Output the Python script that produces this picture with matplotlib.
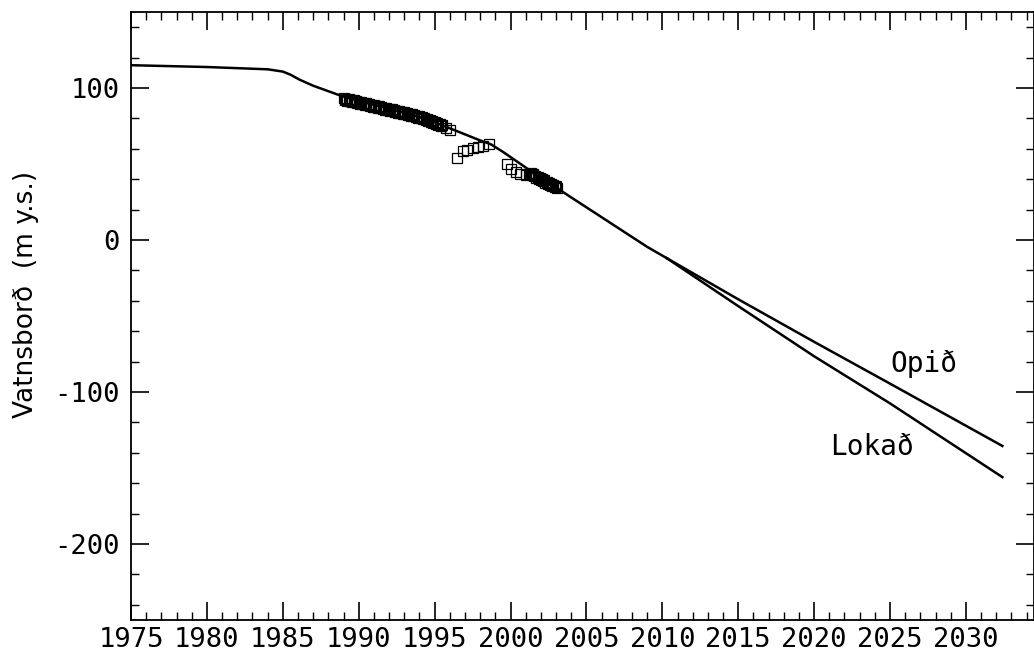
import matplotlib
matplotlib.use("Agg")
import matplotlib.pyplot as plt
from matplotlib.ticker import MultipleLocator

# Model curve (shared part up to ~2010)
curve_years = [1975.0, 1980.0, 1984.0, 1985.0, 1985.5, 1986.1, 1987.0, 1988.8, 1990.0,
               1992.0, 1994.0, 1995.0, 1996.0, 1997.0, 1998.0, 1998.7, 1999.5, 2000.3,
               2001.1, 2002.0, 2003.0, 2004.0, 2005.0, 2006.0, 2007.0, 2008.0, 2009.0,
               2010.3]
curve_level = [115.0, 113.8, 112.3, 110.8, 108.8, 105.5, 101.5, 95.0, 91.5,
               86.5, 81.0, 77.5, 73.5, 69.5, 65.5, 63.0, 58.0, 52.5,
               47.0, 41.0, 34.5, 28.0, 21.5, 15.0, 8.5, 2.0, -4.5,
               -12.0]

# Projections after 2010
open_years = [2010.3, 2015.0, 2020.0, 2025.0, 2032.4]
open_level = [-12.0, -39.0, -67.0, -94.5, -135.5]
closed_years = [2010.3, 2015.0, 2020.0, 2025.0, 2032.4]
closed_level = [-12.0, -43.5, -76.5, -107.5, -156.0]

# Measured water level (open squares), monthly 1989-1995
obs_years = [
    1989.00, 1989.08, 1989.17, 1989.25, 1989.33, 1989.42, 1989.50, 1989.58, 1989.67, 1989.75, 1989.83, 1989.92,
    1990.00, 1990.08, 1990.17, 1990.25, 1990.33, 1990.42, 1990.50, 1990.58, 1990.67, 1990.75, 1990.83, 1990.92,
    1991.00, 1991.08, 1991.17, 1991.25, 1991.33, 1991.42, 1991.50, 1991.58, 1991.67, 1991.75, 1991.83, 1991.92,
    1992.00, 1992.08, 1992.17, 1992.25, 1992.33, 1992.42, 1992.50, 1992.58, 1992.67, 1992.75, 1992.83, 1992.92,
    1993.00, 1993.08, 1993.17, 1993.25, 1993.33, 1993.42, 1993.50, 1993.58, 1993.67, 1993.75, 1993.83, 1993.92,
    1994.00, 1994.08, 1994.17, 1994.25, 1994.33, 1994.42, 1994.50, 1994.58, 1994.67, 1994.75, 1994.83, 1994.92,
    1995.00, 1995.08, 1995.17, 1995.25, 1995.33, 1995.42, 1995.50, 1995.75, 1996.00,
    1996.50, 1996.85, 1997.15, 1997.50, 1997.85, 1998.20, 1998.55,
    1999.80, 2000.05, 2000.35, 2000.65, 2001.00, 2001.25,
    2001.33, 2001.40, 2001.48, 2001.55, 2001.63, 2001.70, 2001.78, 2001.85, 2001.93, 2002.00,
    2002.08, 2002.15, 2002.23, 2002.30, 2002.38, 2002.45, 2002.53, 2002.60, 2002.68, 2002.75,
    2002.83, 2002.90, 2002.98, 2003.05]
obs_level = [
    93.4, 92.0, 92.9, 91.6, 92.5, 91.2, 92.2, 90.9, 91.8, 90.5, 91.4, 90.2,
    91.1, 89.8, 90.7, 89.4, 90.3, 89.0, 89.9, 88.6, 89.5, 88.2, 89.1, 87.8,
    88.7, 87.4, 88.3, 87.0, 87.9, 86.6, 87.5, 86.2, 87.1, 85.8, 86.7, 85.4,
    86.3, 85.0, 85.9, 84.6, 85.5, 84.2, 85.1, 83.8, 84.7, 83.4, 84.3, 83.0,
    83.9, 82.6, 83.5, 82.2, 83.1, 81.8, 82.7, 81.4, 82.3, 80.9, 81.8, 80.4,
    81.3, 80.0, 80.8, 79.4, 80.3, 78.9, 79.7, 78.3, 79.1, 77.7, 78.5, 77.1,
    77.8, 76.4, 77.1, 75.6, 76.3, 74.9, 75.4, 73.5, 72.3,
    54.0, 58.5, 59.5, 60.3, 61.0, 61.6, 63.0,
    50.0, 47.0, 44.5, 43.7, 43.0, 43.7,
    44.0, 42.6, 43.2, 41.8, 42.4, 41.0, 41.6, 40.2, 40.8, 39.4,
    40.0, 38.6, 39.2, 37.8, 38.4, 37.0, 37.6, 36.2, 36.8, 35.4,
    36.0, 34.6, 35.2, 34.0]

x_ticks = [1975, 1980, 1985, 1990, 1995, 2000, 2005, 2010, 2015, 2020, 2025, 2030]
y_ticks = [-200, -100, 0, 100]
y_label = "Vatnsborð  (m y.s.)"
label_open = "Opið"
label_closed = "Lokað"

fig = plt.figure(figsize=(10.34, 6.52), dpi=100)
ax = fig.add_axes([131 / 1034, 32 / 652, (1033.5 - 131) / 1034, (620 - 12) / 652])

ax.plot(curve_years, curve_level, color="black", lw=1.8, zorder=3)
ax.plot(open_years, open_level, color="black", lw=1.8, zorder=3)
ax.plot(closed_years, closed_level, color="black", lw=1.8, zorder=3)
ax.plot(obs_years, obs_level, linestyle="none", marker="s", markersize=6.6,
        markerfacecolor="none", markeredgecolor="black", markeredgewidth=0.9, zorder=4)

ax.set_xlim(1975, 2034.45)
ax.set_ylim(-250, 150)
ax.set_xticks(x_ticks)
ax.set_xticklabels([str(t) for t in x_ticks])
ax.set_yticks(y_ticks)
ax.set_yticklabels([str(t) for t in y_ticks])
ax.xaxis.set_minor_locator(MultipleLocator(1))
ax.yaxis.set_minor_locator(MultipleLocator(20))

mono = "DejaVu Sans Mono"
ax.tick_params(which="both", direction="in", top=True, right=True, colors="black")
ax.tick_params(which="major", length=13, width=1.2, labelsize=19.5, pad=5)
ax.tick_params(which="minor", length=6, width=1.0)
for lab in ax.get_xticklabels() + ax.get_yticklabels():
    lab.set_fontfamily(mono)
ax.tick_params(axis="y", pad=8)
for sp in ax.spines.values():
    sp.set_linewidth(1.3)

ax.set_ylabel(y_label, fontsize=19, fontfamily="DejaVu Sans")
ax.yaxis.set_label_coords(-0.102, 0.535)

ax.text(2027.2, -81.5, label_open, fontsize=20, fontfamily=mono, ha="center", va="center")
ax.text(2023.8, -136, label_closed, fontsize=20, fontfamily=mono, ha="center", va="center")

fig.savefig("out.png", dpi=100)
